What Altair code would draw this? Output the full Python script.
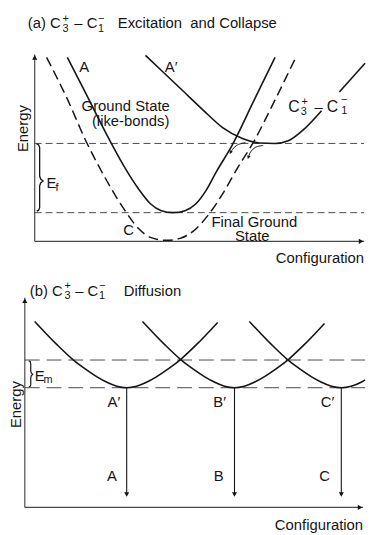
import altair as alt
import pandas as pd

FONT = "Liberation Sans"
INK = "#151515"
GRAY = "#4a4a4a"

# ================= panel (a): excitation and collapse =================
# ground state (like-bonds), solid curve "A"
a_ground_x = [33, 50, 65, 78, 92, 105, 117, 128, 140, 152, 163, 173, 184, 199, 221, 243]
a_ground_y = [186, 153, 123, 98, 73, 53, 38, 31, 29, 31, 38, 51, 71, 96, 141, 186]
# final ground state, dashed curve "C"
a_final_x = [12, 32, 52, 73, 90, 105, 117, 133, 147, 160, 175, 190, 205, 221, 243, 265]
a_final_y = [186, 146, 101, 61, 33, 13, 4, 1, 3, 10, 26, 48, 74, 100, 143, 188]
# excited C3+ - C1- curve "A'" (interrupted behind its label)
a_exc_x = [112, 130, 150, 170, 190, 210, 227, 243, 257, 273, 290, 308, 334]
a_exc_y = [188, 171, 152, 133, 115, 104, 99.5, 99, 102, 114, 132, 151, 180]
a_exc_seg = [1] * 11 + [2] * 2
# energy levels bounding E_f
a_levels = [99, 29]
a_axis_x_max = 333
a_axis_y_max = 189
# E_f brace
a_brace_x = [2, 4, 5, 5, 6, 8.5, 6, 5, 5, 4, 2]
a_brace_y = [98.5, 97.5, 95, 66, 63, 61, 59, 56, 34, 31.5, 30.5]
# small relaxation arrows
a_arr1_x = [213, 205, 200, 198]
a_arr1_y = [100, 97.5, 93, 89]
a_arr2_x = [231, 223, 218, 216]
a_arr2_y = [97, 95, 90, 84]

# ================= panel (b): diffusion =================
b_c1_x = [10, 33, 48, 61, 73, 83, 93, 103, 113, 123, 133, 145, 158, 173, 195]
b_c1_y = [188, 164, 150, 140, 132, 126.5, 122.5, 121, 122.5, 126.5, 132, 140, 150, 164, 187]
b_c2_x = [119, 142, 157, 170, 182, 192, 202, 212, 222, 232, 242, 254, 267, 282, 303]
b_c2_y = [188, 164, 150, 140, 132, 126.5, 122.5, 121, 122.5, 126.5, 132, 140, 150, 164, 186]
b_c3_x = [227, 250, 265, 278, 290, 300, 310, 320, 330, 340, 344]
b_c3_y = [188, 164, 150, 140, 132, 126.5, 122.5, 121, 122.5, 126.5, 129]
b_levels = [149, 121]
b_drop_x = [103, 212, 320]
b_drop_top = 121
b_drop_bottom = 10
b_axis_x_max = 342
b_axis_y_max = 212
b_brace_x = [4, 5.5, 6, 6, 6.5, 8, 6.5, 6, 6, 5.5, 4]
b_brace_y = [148, 147.5, 145, 138, 136, 134.5, 133, 131, 124, 122.5, 122]

# ---------------- helpers ----------------
def curve_df(xs, ys, name, seg=None):
    return pd.DataFrame({"x": xs, "y": ys, "i": list(range(len(xs))),
                         "s": [f"{name}-{k}" for k in (seg or [0] * len(xs))]})


def lines(df, xs, ys, interp="monotone", **mark):
    return alt.Chart(df).mark_line(interpolate=interp, **mark).encode(
        x=alt.X("x:Q", scale=xs, axis=None),
        y=alt.Y("y:Q", scale=ys, axis=None),
        order="i:Q", detail="s:N")


def hlines(vals, x0, x1, name):
    xs, ys, ss = [], [], []
    for k, v in enumerate(vals):
        xs += [x0, x1]; ys += [v, v]; ss += [k, k]
    return curve_df(xs, ys, name, ss)


def texts(rows, xs, ys, align="center", angle=0):
    df = pd.DataFrame(rows, columns=["t", "x", "y", "fs"])
    return alt.Chart(df).mark_text(font=FONT, align=align, baseline="middle",
                                   angle=angle, color=INK).encode(
        x=alt.X("x:Q", scale=xs, axis=None),
        y=alt.Y("y:Q", scale=ys, axis=None),
        text="t:N", size=alt.Size("fs:Q", scale=None, legend=None))


def heads(rows, xs, ys):
    df = pd.DataFrame(rows, columns=["x", "y", "shape", "ang", "sz"])
    return alt.Chart(df).mark_point(filled=True, color=INK, opacity=1).encode(
        x=alt.X("x:Q", scale=xs, axis=None),
        y=alt.Y("y:Q", scale=ys, axis=None),
        shape=alt.Shape("shape:N", scale=None, legend=None),
        angle=alt.Angle("ang:Q", scale=None),
        size=alt.Size("sz:Q", scale=None, legend=None))


# ---------------- panel (a) ----------------
xa = alt.Scale(domain=[-27, 334], nice=False, zero=False)
ya = alt.Scale(domain=[-27, 233], nice=False, zero=False)

a_axes = curve_df([0, 0, 0, a_axis_x_max], [a_axis_y_max, 0, 0, 0], "ax", [0, 0, 1, 1])
a_layers = [
    lines(hlines(a_levels, 0, a_axis_x_max, "lev"), xa, ya, interp="linear",
          color=GRAY, strokeWidth=1, strokeDash=[7, 4]),
    lines(a_axes, xa, ya, interp="linear", color=GRAY, strokeWidth=1.2),
    heads([[0, a_axis_y_max - 3, "triangle-up", 0, 28],
           [a_axis_x_max - 3, 0, "triangle-right", 0, 28]], xa, ya),
    lines(curve_df(a_ground_x, a_ground_y, "A"), xa, ya, color=INK, strokeWidth=1.6),
    lines(curve_df(a_final_x, a_final_y, "C"), xa, ya, color=INK, strokeWidth=1.5,
          strokeDash=[10, 5]),
    lines(curve_df(a_exc_x, a_exc_y, "Ap", a_exc_seg), xa, ya, color=INK, strokeWidth=1.6),
    lines(curve_df(a_brace_x, a_brace_y, "brace"), xa, ya, interp="linear", color=INK,
          strokeWidth=1.3),
    lines(pd.concat([curve_df(a_arr1_x, a_arr1_y, "r1"), curve_df(a_arr2_x, a_arr2_y, "r2")]),
          xa, ya, interp="cardinal", color=INK, strokeWidth=1),
    heads([[a_arr1_x[-1], a_arr1_y[-1] + 1, "triangle-down", 27, 14],
           [a_arr2_x[-1], a_arr2_y[-1] + 1, "triangle-down", 20, 14]], xa, ya),
    texts([["(a) C", -7, 221, 15], ["– C", 40, 221, 15],
           ["+", 28, 225, 11], ["3", 28, 215, 11],
           ["−", 64, 225, 11], ["1", 64, 215, 11],
           ["Excitation\u00a0 and Collapse", 84, 221, 15],
           ["E", 12, 59, 15], ["f", 21, 54, 11]], xa, ya, align="left"),
    texts([["A", 50, 176, 15], ["A′", 138, 176, 15],
           ["Ground State", 92, 137, 15], ["(like-bonds)", 97, 122, 15],
           ["C", 95, 11, 15], ["Final Ground", 222, 19, 15], ["State", 220, 5, 15],
           ["C", 262, 136, 16], ["+", 273, 141, 11], ["3", 272, 131, 11],
           ["–", 287, 136, 15], ["C", 301, 136, 16], ["−", 313, 143, 11],
           ["1", 313, 132, 11]], xa, ya),
    texts([["Configuration", 333, -17, 15]], xa, ya, align="right"),
    texts([["Energy", -12, 114, 15]], xa, ya, angle=270),
]
panel_a = alt.layer(*a_layers).properties(width=361, height=260)

# ---------------- panel (b) ----------------
xb = alt.Scale(domain=[-17, 344], nice=False, zero=False)
yb = alt.Scale(domain=[-25, 242], nice=False, zero=False)

b_axes = curve_df([0, 0, 0, b_axis_x_max], [b_axis_y_max, 0, 0, 0], "ax", [0, 0, 1, 1])
drops = curve_df([x for x in b_drop_x for _ in (0, 1)],
                 [b_drop_top, b_drop_bottom + 3] * len(b_drop_x), "d",
                 [k for k in range(len(b_drop_x)) for _ in (0, 1)])
b_layers = [
    lines(hlines(b_levels, 0, b_axis_x_max + 2, "lev"), xb, yb, interp="linear",
          color=GRAY, strokeWidth=1, strokeDash=[15, 7]),
    lines(b_axes, xb, yb, interp="linear", color=GRAY, strokeWidth=1.2),
    heads([[0, b_axis_y_max - 3, "triangle-up", 0, 28],
           [b_axis_x_max - 3, 0, "triangle-right", 0, 28]], xb, yb),
    lines(pd.concat([curve_df(b_c1_x, b_c1_y, "c1"), curve_df(b_c2_x, b_c2_y, "c2"),
                     curve_df(b_c3_x, b_c3_y, "c3")]), xb, yb, color=INK, strokeWidth=1.6),
    lines(drops, xb, yb, interp="linear", color=INK, strokeWidth=1.1),
    heads([[x, b_drop_bottom + 3, "triangle-down", 0, 26] for x in b_drop_x], xb, yb),
    lines(curve_df(b_brace_x, b_brace_y, "brace"), xb, yb, interp="linear", color=INK,
          strokeWidth=1.2),
    texts([["(b) C", 5, 218.5, 15], ["– C", 51, 218.5, 15],
           ["+", 40, 223.5, 11], ["3", 40, 213.5, 11],
           ["−", 75, 223.5, 11], ["1", 75, 213.5, 11],
           ["Diffusion", 100, 218.5, 15],
           ["E", 10, 133, 15], ["m", 19, 129, 11]], xb, yb, align="left"),
    texts([["A′", 90, 106, 15], ["B′", 197, 106, 15], ["C′", 306, 106, 15],
           ["A", 88, 32, 15], ["B", 196, 32, 15], ["C", 303, 32, 15]], xb, yb),
    texts([["Configuration", 342, -18, 15]], xb, yb, align="right"),
    texts([["Energy", -9, 104, 15]], xb, yb, angle=270),
]
panel_b = alt.layer(*b_layers).properties(width=361, height=267)

chart = (alt.vconcat(panel_a, panel_b, spacing=0)
         .properties(padding=0, background="white")
         .configure_view(stroke=None))

chart.save("out.html", embed_options={"renderer": "svg", "actions": False})
